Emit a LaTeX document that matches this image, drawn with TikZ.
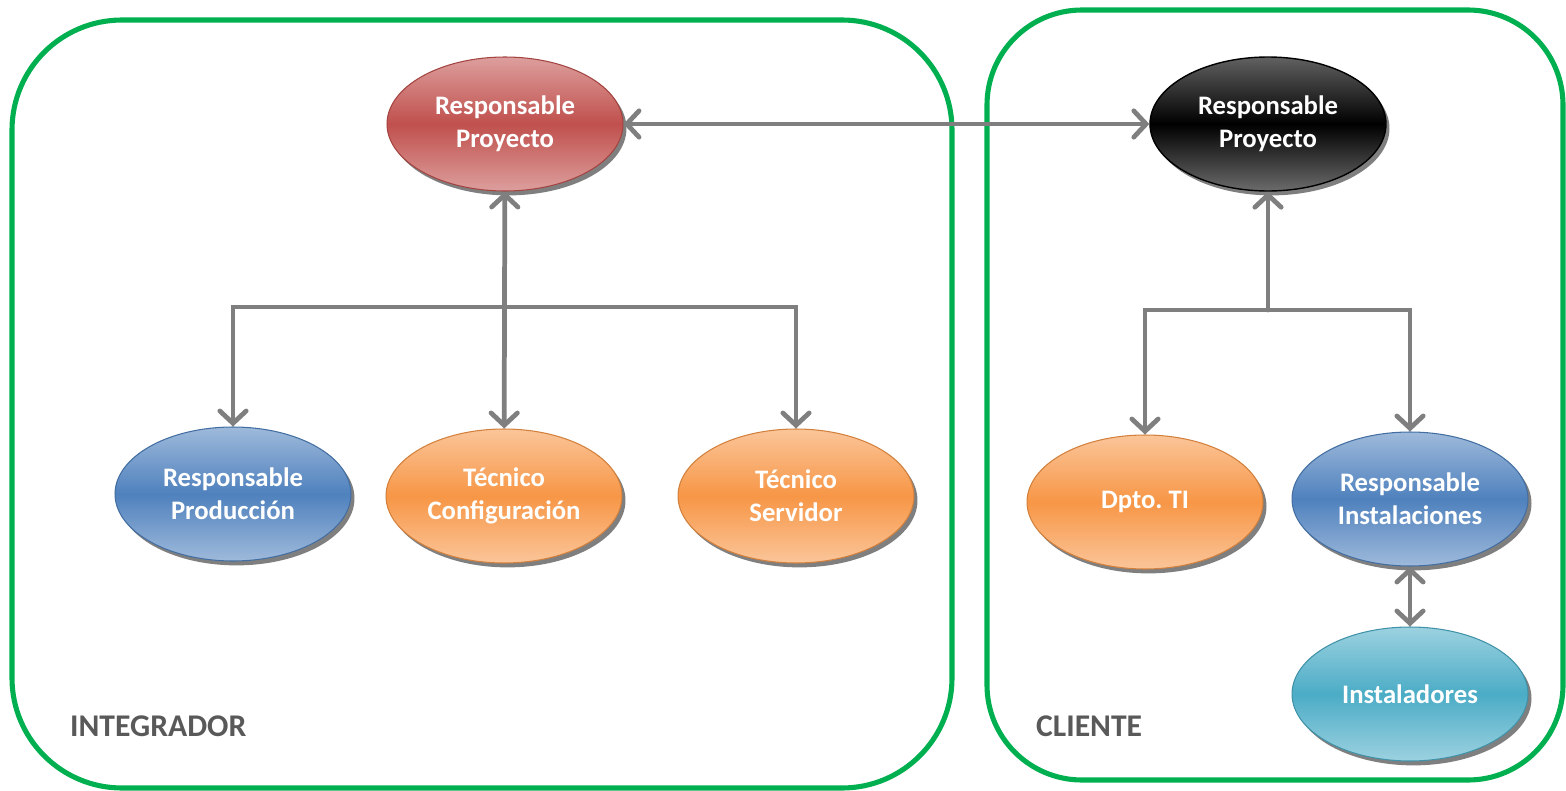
\documentclass[tikz,border=0pt]{standalone}
\usepackage{fontspec}
\setmainfont{Carlito}
\usetikzlibrary{arrows.meta,shadows,shapes.geometric}
\definecolor{grupo}{HTML}{00B050}
\definecolor{enlace}{HTML}{7F7F7F}
\definecolor{rotulo}{HTML}{595959}
\definecolor{rojo}{HTML}{C0504D}
\definecolor{azul}{HTML}{4F81BD}
\definecolor{naranja}{HTML}{F79646}
\definecolor{cian}{HTML}{4BACC6}
\begin{document}
\begin{tikzpicture}[x=0.02cm, y=-0.02cm,
    marco/.style={draw=grupo, line width=2.9pt},
    rol/.style={ellipse, minimum width=4.72cm, minimum height=2.68cm, inner sep=0pt,
        align=center, text=white, font=\fontsize{15.2}{19}\selectfont\bfseries,
        drop shadow={shadow xshift=2pt, shadow yshift=-2.5pt, fill=black, opacity=.5}},
    sombreado/.style={draw=#1!85!black, line width=0.6pt,
        top color=#1!55!white, bottom color=#1!55!white, middle color=#1},
    negro/.style={draw=black, line width=0.8pt,
        top color=black!62, bottom color=black!58, middle color=black},
    link/.style={draw=enlace, line width=2.7pt, line cap=round,
        arrows={Straight Barb[length=7pt, width=15pt, line cap=round]-Straight Barb[length=7pt, width=15pt, line cap=round]}},
    uno/.style={link, arrows={-Straight Barb[length=7pt, width=15pt, line cap=round]}},
    grupotxt/.style={anchor=west, text=rotulo, font=\fontsize{18}{20}\selectfont\bfseries}]
    \useasboundingbox (0,0) rectangle (1566,791);

    \draw [marco, rounded corners=2.2cm] (12,20) rectangle (952,788);
    \draw [marco, rounded corners=1.9cm] (987,10) rectangle (1563,780);
    \draw (64,726) node [grupotxt] (integ) {INTEGRADOR};
    \draw (1030,726) node [grupotxt] (clien) {CLIENTE};

    \draw (505,124) node [rol, sombreado=rojo] (rpInt) {Responsable\\Proyecto};
    \draw (1268,124) node [rol, negro] (rpCli) {Responsable\\Proyecto};

    \draw (233,494) node [rol, sombreado=azul] (respProd) {Responsable\\Producción};
    \draw (504,496) node [rol, sombreado=naranja] (tecConf) {Técnico\\Configuración};
    \draw (796,496) node [rol, sombreado=naranja] (tecServ) {Técnico\\Servidor};

    \draw (1145,502) node [rol, sombreado=naranja] (dptoTI) {Dpto.\ TI};
    \draw (1410,499) node [rol, sombreado=azul] (respInst) {Responsable\\Instalaciones};
    \draw (1410,694) node [rol, sombreado=cian] (instal) {Instaladores};

    \coordinate (jInt) at (504,307);
    \coordinate (jCli) at (1268,310);

    \draw [link] (rpInt) -- (rpCli);
    \draw [link] (rpInt) -- (tecConf);
    \draw [uno] (jInt) -| (respProd);
    \draw [uno] (jInt) -| (tecServ);
    \draw [uno] (jCli) -- (rpCli);
    \draw [uno] (jCli) -| (dptoTI);
    \draw [uno] (jCli) -| (respInst);
    \draw [link] (respInst) -- (instal);
\end{tikzpicture}
\end{document}
